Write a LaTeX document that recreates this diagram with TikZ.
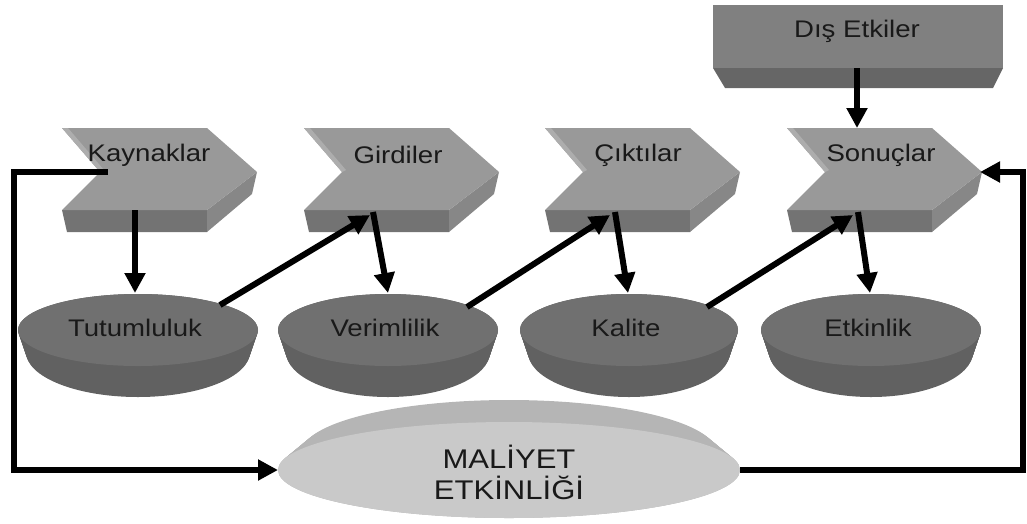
\documentclass[tikz,border=0pt]{standalone}
\usepackage{fontspec}
\setmainfont{Liberation Sans}
\usetikzlibrary{arrows.meta}
\definecolor{chevface}{gray}{0.60}
\definecolor{chevbot}{gray}{0.45}
\definecolor{chevside}{gray}{0.53}
\definecolor{chevbevel}{gray}{0.68}
\definecolor{boxface}{gray}{0.50}
\definecolor{boxbot}{gray}{0.40}
\definecolor{discface}{gray}{0.44}
\definecolor{discside}{gray}{0.38}
\definecolor{bigface}{gray}{0.79}
\definecolor{bigrim}{gray}{0.71}
\definecolor{txt}{gray}{0.10}
\tikzset{
  lbl/.style={font=\fontsize{24}{28}\selectfont, text=txt, xscale=1.15, inner sep=0pt},
  biglbl/.style={font=\fontsize{27}{31}\selectfont, text=txt, xscale=1.15, inner sep=0pt, align=center},
  link/.style={line width=6pt, -{Triangle[length=20pt,width=20pt]}},
  loopline/.style={line width=6pt, line join=miter, -{Triangle[length=20pt,width=20pt]}},
  chevron/.pic={
    \fill[chevbot] (0,82)--(145,82)--(145,104)--(5,104)--cycle;
    \fill[chevside] (145,82)--(195,44)--(190,66)--(145,104)--cycle;
    \fill[chevface] (0,0)--(145,0)--(195,44)--(145,82)--(0,82)--(38,44)--cycle;
    \fill[chevbevel] (0,0)--(6,0)--(42,42)--(38,44)--cycle;
  }
}
\newcommand\mydisc[2]{%
  \foreach \t in {0,0.05,...,1.01}{
    \fill[discside] (#1,330+22*\t) ellipse [x radius=#2-8*\t, y radius=36+9*\t];
  }
  \fill[discface] (#1,330) ellipse [x radius=#2, y radius=36];
}
\begin{document}
\begin{tikzpicture}[x=1pt,y=-1pt]
\useasboundingbox (0,0) rectangle (1027,523);
% chevrons
\pic at (62,128) {chevron};
\pic at (304,128) {chevron};
\pic at (545,128) {chevron};
\pic at (787,128) {chevron};
\node[lbl] (kay) at (149,155) {Kaynaklar};
\node[lbl] (gir) at (398,155) {Girdiler};
\node[lbl] (cik) at (638,155) {Çıktılar};
\node[lbl] (son) at (881,155) {Sonuçlar};
% Dis Etkiler box
\fill[boxbot] (713,68)--(1003,68)--(993,88)--(725,88)--cycle;
\fill[boxface] (713,5) rectangle (1003,68);
\node[lbl] (dis) at (857,31) {Dış Etkiler};
% discs
\mydisc{138}{120}
\mydisc{388}{110}
\mydisc{629}{109}
\mydisc{871}{110}
\node[lbl] (tut) at (135,328) {Tutumluluk};
\node[lbl] (ver) at (385,328) {Verimlilik};
\node[lbl] (kal) at (626,328) {Kalite};
\node[lbl] (etk) at (868,328) {Etkinlik};
% big disc
\foreach \t in {0,0.05,...,1.01}{
  \fill[bigrim] (509,452+18*\t) ellipse [x radius=207+24*\t, y radius=52-4*\t];
}
\fill[bigface] (509,470) ellipse [x radius=231, y radius=48];
\node[biglbl] (mal) at (509,472) {MALİYET\\ETKİNLİĞİ};
% connection points
\coordinate (kayB) at (135,210);
\coordinate (tutT) at (135,293);
\coordinate (tutR) at (220,305);
\coordinate (girB) at (370,215);
\coordinate (girD) at (373,212);
\coordinate (verT) at (388,293);
\coordinate (verR) at (467,307);
\coordinate (cikB) at (610,215);
\coordinate (cikD) at (615,212);
\coordinate (kalT) at (628,293);
\coordinate (kalR) at (707,307);
\coordinate (sonB) at (853,215);
\coordinate (sonD) at (858,212);
\coordinate (etkT) at (870,293);
\coordinate (disB) at (857,68);
\coordinate (sonT) at (857,128);
\coordinate (kayL) at (108,172);
\coordinate (cornA) at (14,172);
\coordinate (cornB) at (14,470);
\coordinate (malL) at (278,470);
\coordinate (malR) at (740,470);
\coordinate (cornC) at (1023,470);
\coordinate (cornD) at (1023,172);
\coordinate (sonR) at (980,172);
% connectors
\draw[link] (kayB) -- (tutT);
\draw[link] (tutR) -- (girB);
\draw[link] (girD) -- (verT);
\draw[link] (verR) -- (cikB);
\draw[link] (cikD) -- (kalT);
\draw[link] (kalR) -- (sonB);
\draw[link] (sonD) -- (etkT);
\draw[link] (disB) -- (sonT);
\draw[loopline] (kayL) -- (cornA) -- (cornB) -- (malL);
\draw[loopline] (malR) -- (cornC) -- (cornD) -- (sonR);
\end{tikzpicture}
\end{document}
